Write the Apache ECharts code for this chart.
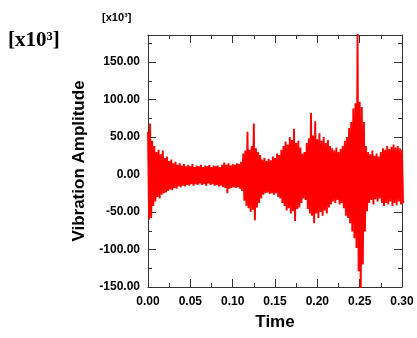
<!DOCTYPE html>
<html>
<head>
<meta charset="utf-8">
<script src="https://cdn.jsdelivr.net/npm/echarts@6/dist/echarts.min.js"></script>
<style>html,body{margin:0;padding:0;background:#fff}#c{width:417px;height:338px}</style>
</head>
<body>
<div id="c"></div>
<script>
// Envelope of the vibration signal, every 0.0025 s (values in x10^3)
const timeStep = 0.0025;
const upperEnvelope = [
  57, 68, 45, 38, 30, 33, 27, 32, 22, 24,
  18, 20, 15, 17, 13, 15, 12, 14, 11, 13,
  11, 14, 10, 12, 11, 13, 10, 12, 11, 13,
  10, 12, 11, 12, 10, 13, 16, 13, 15, 12,
  14, 13, 15, 14, 17, 28, 32, 57, 33, 38,
  68, 35, 30, 26, 20, 22, 18, 21, 19, 24,
  22, 28, 26, 33, 38, 44, 40, 50, 46, 61,
  42, 45, 36, 28, 30, 42, 48, 82, 52, 71,
  47, 55, 45, 50, 42, 46, 38, 35, 32, 36,
  30, 34, 38, 45, 50, 62, 70, 88, 95, 190,
  97, 90, 70, 38, 30, 27, 32, 25, 28, 24,
  30, 35, 33, 38, 34, 37, 40, 36, 38, 35,
  33
];
const lowerEnvelope = [
  -60, -58, -42, -36, -30, -32, -27, -25, -24, -22,
  -20, -21, -18, -19, -16, -17, -15, -16, -14, -15,
  -13, -15, -13, -14, -12, -14, -13, -15, -12, -14,
  -13, -15, -14, -16, -15, -17, -18, -25, -19, -18,
  -17, -18, -17, -19, -22, -35, -42, -45, -50, -47,
  -61, -44, -38, -32, -27, -25, -24, -26, -25, -27,
  -25, -30, -32, -38, -42, -48, -45, -52, -49, -62,
  -46, -44, -38, -32, -34, -46, -52, -55, -65, -52,
  -58, -50, -55, -48, -52, -44, -40, -36, -38, -34,
  -40, -38, -45, -55, -58, -65, -76, -85, -98, -129,
  -160, -120, -76, -49, -38, -34, -40, -33, -36, -32,
  -38, -42, -38, -40, -36, -42, -38, -41, -36, -40,
  -38
];
const xTickLabels = ['0.00','0.05','0.10','0.15','0.20','0.25','0.30'];
const yTickLabels = ['-150.00','-100.00','-50.00','0.00','50.00','100.00','150.00'];

// signal swings between the upper and lower envelope values
const signal = [];
for (let i = 0; i < upperEnvelope.length; i++) {
  const t = i * timeStep;
  signal.push([t, upperEnvelope[i]]);
  signal.push([t + timeStep / 2, lowerEnvelope[i]]);
}

const chart = echarts.init(document.getElementById('c'), null, {renderer: 'canvas'});
const lineC = '#333';
const baseFont = 'Liberation Sans, Arial, Helvetica, sans-serif';
function xAx(pos, show) {
  return {
    type: 'value', position: pos, min: 0, max: 0.3, interval: 0.05,
    axisLine: {show: true, onZero: false, lineStyle: {color: lineC, width: 1}},
    axisTick: {show: true, inside: true, length: 8, lineStyle: {color: lineC}},
    minorTick: {show: true, splitNumber: 2, length: 4, lineStyle: {color: lineC}},
    splitLine: {show: false},
    axisLabel: {show: show, margin: 9, color: '#000', fontSize: 12, fontWeight: 'bold', fontFamily: baseFont,
      formatter: v => xTickLabels[Math.round(v / 0.05)] || ''},
    name: show ? 'Time' : '', nameLocation: 'middle', nameGap: 27,
    nameTextStyle: {color: '#000', fontSize: 17, fontWeight: 'bold', fontFamily: baseFont}
  };
}
function yAx(pos, show) {
  return {
    type: 'value', position: pos, min: -150, max: 186, interval: 50,
    axisLine: {show: true, onZero: false, lineStyle: {color: lineC, width: 1}},
    axisTick: {show: true, inside: true, length: 8, lineStyle: {color: lineC}},
    minorTick: {show: true, splitNumber: 2, length: 4, lineStyle: {color: lineC}},
    splitLine: {show: false},
    axisLabel: {show: show, margin: 8, color: '#000', fontSize: 12, fontWeight: 'bold', fontFamily: baseFont,
      showMaxLabel: false,
      formatter: v => { const k = Math.round((v + 150) / 50); return (Math.abs(v + 150 - k * 50) < 1e-6) ? (yTickLabels[k] || '') : ''; }},
    name: show ? 'Vibration Amplitude' : '', nameLocation: 'middle', nameGap: 60,
    nameTextStyle: {color: '#000', fontSize: 17, fontWeight: 'bold', fontFamily: baseFont}
  };
}

chart.setOption({
  animation: false,
  grid: {left: 148, right: 15, top: 35, bottom: 51, containLabel: false},
  xAxis: [xAx('bottom', true), xAx('top', false)],
  yAxis: [yAx('left', true), yAx('right', false)],
  series: [{
    type: 'line', xAxisIndex: 0, yAxisIndex: 0, data: signal, showSymbol: false, clip: true,
    sampling: null,
    lineStyle: {color: '#ff0000', width: 1.9, join: 'miter', cap: 'butt'}, itemStyle: {color: '#ff0000'}
  }],
  graphic: [
    {type: 'text', left: 102, top: 12, style: {text: '[x10³]', fill: '#000', font: 'bold 11px ' + baseFont}},
    {type: 'text', left: 8, top: 30, style: {text: '[x10³]', fill: '#000', font: 'bold 21px "Liberation Serif", "Times New Roman", serif'}}
  ]
});
</script>
</body>
</html>
